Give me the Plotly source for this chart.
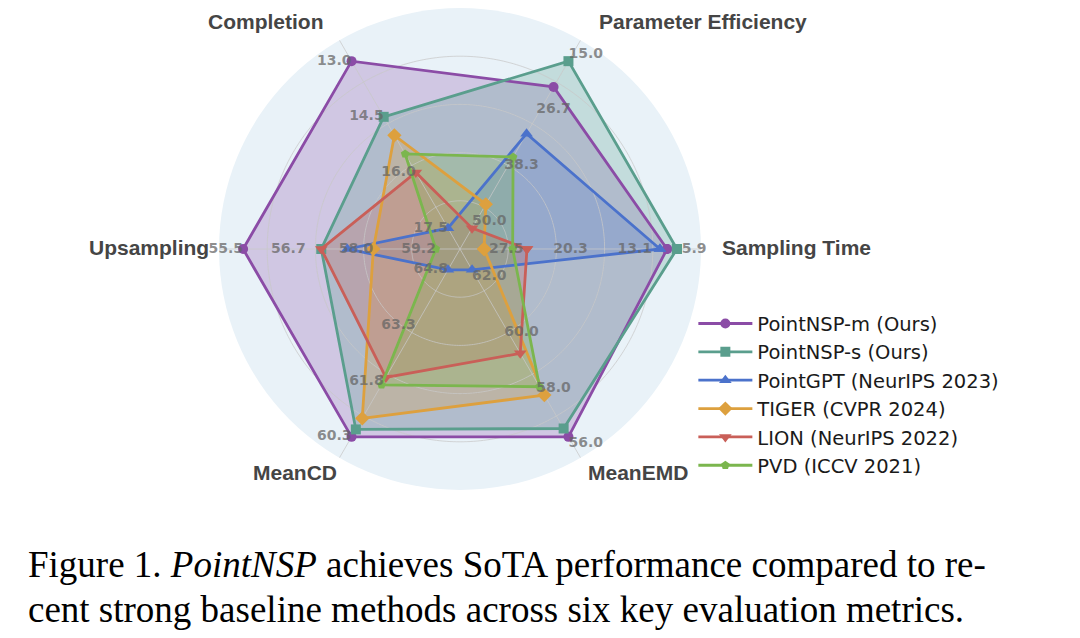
import numpy as np
import plotly.graph_objects as go

# ---------------- data ----------------
categories = ["Sampling Time", "Parameter Efficiency", "Completion",
              "Upsampling", "MeanCD", "MeanEMD"]

# per-axis tick labels (inner ring -> outer ring)
ticks_sampling = [27.5, 20.3, 13.1, 5.9]
ticks_param = [50.0, 38.3, 26.7, 15.0]
ticks_completion = [17.5, 16.0, 14.5, 13.0]
ticks_upsampling = [59.2, 58.0, 56.7, 55.5]
ticks_meancd = [64.8, 63.3, 61.8, 60.3]
ticks_meanemd = [62.0, 60.0, 58.0, 56.0]
axis_ticks = [ticks_sampling, ticks_param, ticks_completion,
              ticks_upsampling, ticks_meancd, ticks_meanemd]

methods = ["PointNSP-m (Ours)", "PointNSP-s (Ours)", "PointGPT (NeurIPS 2023)",
           "TIGER (CVPR 2024)", "LION (NeurIPS 2022)", "PVD (ICCV 2021)"]
# values in category order above
pointnsp_m = [7.0, 20.4, 13.0, 55.5, 60.3, 56.0]
pointnsp_s = [5.9, 15.0, 14.5, 57.0, 60.5, 56.3]
pointgpt = [7.8, 30.2, 17.5, 57.5, 64.8, 62.0]
tiger = [27.5, 45.0, 15.0, 58.0, 60.8, 57.5]
lion = [22.7, 50.0, 16.0, 57.0, 61.9, 59.0]
pvd = [24.3, 35.1, 15.5, 59.2, 61.7, 57.8]
series = [pointnsp_m, pointnsp_s, pointgpt, tiger, lion, pvd]

caption_1 = "Figure 1. <i>PointNSP</i> achieves SoTA performance compared to re-"
caption_2 = "cent strong baseline methods across six key evaluation metrics."

# ---------------- style ----------------
colors = ["#8B4CA6", "#5A9E8D", "#4B72CB", "#DDA03E", "#C95F58", "#7BB64E"]
symbols = ["circle", "square", "triangle-up", "diamond", "triangle-down", "pentagon"]
msizes = [10, 10, 11, 11, 11, 9]
r_in, r_out = 0.1, 0.9


def hex_rgba(h, a):
    h = h.lstrip("#")
    return "rgba(%d,%d,%d,%.2f)" % (int(h[0:2], 16), int(h[2:4], 16), int(h[4:6], 16), a)


def norm(v, t):
    return r_in + (r_out - r_in) * (v - t[0]) / (t[-1] - t[0])


n = len(categories)
angles = [360.0 * i / n for i in range(n)]

fig = go.Figure()

# fills (below grid)
for vals, col in zip(series, colors):
    rr = [norm(v, t) for v, t in zip(vals, axis_ticks)]
    fig.add_trace(go.Scatterpolar(
        r=rr + rr[:1], theta=angles + angles[:1], mode="lines",
        fill="toself", fillcolor=hex_rgba(col, 0.26),
        line=dict(width=0, color=hex_rgba(col, 0)),
        showlegend=False, hoverinfo="skip"))

# grid (above fills, below lines)
grid_col = "rgba(200,200,200,0.75)"
circ = np.linspace(0, 360, 361)
for g in [0.2, 0.4, 0.6, 0.8]:
    fig.add_trace(go.Scatterpolar(r=[g] * len(circ), theta=circ, mode="lines",
                                  line=dict(color=grid_col, width=1),
                                  showlegend=False, hoverinfo="skip"))
for a in angles:
    fig.add_trace(go.Scatterpolar(r=[0, 1], theta=[a, a], mode="lines",
                                  line=dict(color=grid_col, width=1),
                                  showlegend=False, hoverinfo="skip"))

# lines + markers
for name, vals, col, sym, ms in zip(methods, series, colors, symbols, msizes):
    rr = [norm(v, t) for v, t in zip(vals, axis_ticks)]
    fig.add_trace(go.Scatterpolar(
        r=rr + rr[:1], theta=angles + angles[:1], mode="lines+markers",
        name=name, legendgroup=name,
        line=dict(color=col, width=2.8),
        marker=dict(symbol=sym, size=ms, color=col),
        cliponaxis=False))

# per-axis tick labels
positions = ["middle right", "top right", "middle left",
             "middle left", "middle left", "bottom right"]
pads = ["\u00a0", "", "", "", "", ""]
for a, t, pos, pad in zip(angles, axis_ticks, positions, pads):
    fig.add_trace(go.Scatterpolar(
        r=[norm(v, t) for v in t], theta=[a] * len(t), mode="text",
        text=[pad + "%.1f" % v for v in t], textposition=pos,
        textfont=dict(family="DejaVu Sans", size=14, color="rgba(100,100,100,0.72)",
                      weight="bold"),
        showlegend=False, hoverinfo="skip", cliponaxis=False))

W, H = 1080, 638
cx, cy, R = 460, 249, 241

fig.update_layout(
    width=W, height=H,
    margin=dict(l=0, r=0, t=0, b=0),
    paper_bgcolor="white",
    polar=dict(
        domain=dict(x=[(cx - R) / W, (cx + R) / W],
                    y=[1 - (cy + R) / H, 1 - (cy - R) / H]),
        bgcolor="#E9F2F8",
        radialaxis=dict(range=[0, 1], showticklabels=False, ticks="",
                        showgrid=False, showline=False),
        angularaxis=dict(rotation=0, direction="counterclockwise",
                         tickvals=angles, showticklabels=False, ticks="",
                         showgrid=False, showline=False),
    ),
    legend=dict(x=0.642, y=0.523, xanchor="left", yanchor="top",
                bgcolor="rgba(0,0,0,0)", tracegroupgap=0, itemwidth=54,
                font=dict(family="DejaVu Sans", size=19.5, color="#1a1a1a")),
    showlegend=True,
)

title_font = dict(family="Liberation Sans", size=21, color="#454545", weight="bold")
title_pos = {
    "Sampling Time": (720, 247, "left"),
    "Parameter Efficiency": (597, 22, "left"),
    "Completion": (326, 22, "right"),
    "Upsampling": (211, 247, "right"),
    "MeanCD": (339, 472, "right"),
    "MeanEMD": (586, 472, "left"),
}
for c in categories:
    px, py, anc = title_pos[c]
    fig.add_annotation(x=px / W, y=1 - py / H, xref="paper", yref="paper",
                       text="<b>%s</b>" % c, showarrow=False, xanchor=anc,
                       yanchor="middle", font=title_font)

cap_font = dict(family="Liberation Serif", size=37, color="black")
for txt, py in [(caption_1, 564), (caption_2, 609)]:
    fig.add_annotation(x=26 / W, y=1 - py / H, xref="paper", yref="paper",
                       text=txt, showarrow=False, xanchor="left", yanchor="middle",
                       font=cap_font)

fig.write_html("out.html")
